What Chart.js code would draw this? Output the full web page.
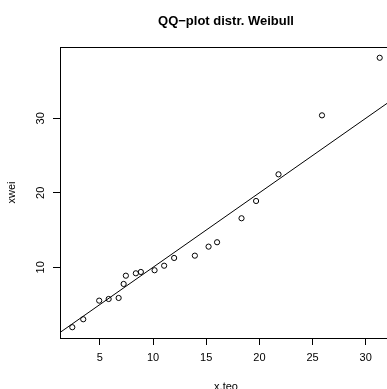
<!DOCTYPE html>
<html>
<head>
<meta charset="utf-8">
<script src="https://cdn.jsdelivr.net/npm/chart.js@4/dist/chart.umd.min.js"></script>
<style>
  html, body { margin: 0; padding: 0; background: #fff; overflow: hidden; }
  canvas { display: block; }
</style>
</head>
<body>
<canvas id="qq" width="400" height="410"></canvas>
<script>
// theoretical quantiles vs sorted sample
const xTeo = [2.40, 3.43, 4.93, 5.82, 6.76, 7.23, 7.44, 8.38, 8.85, 10.14,
              11.04, 11.98, 13.93, 15.22, 16.02, 18.32, 19.69, 21.80, 25.89, 31.32];
const xWei = [1.95, 3.02, 5.52, 5.74, 5.88, 7.76, 8.87, 9.19, 9.37, 9.60,
              10.21, 11.25, 11.56, 12.77, 13.36, 16.58, 18.90, 22.48, 30.40, 38.13];
const xTicks = [5, 10, 15, 20, 25, 30];
const yTicks = [10, 20, 30];
// reference line y = a + b*x
const lineA = 0;
const lineB = 1;

// R style axis range: data range extended by 4%
function rRange(v) {
  const lo = Math.min(...v), hi = Math.max(...v), d = (hi - lo) * 0.04;
  return [lo - d, hi + d];
}
const xLim = rRange(xTeo);
const yLim = rRange(xWei);

const points = xTeo.map((x, i) => ({ x: x, y: xWei[i] }));
const refLine = xLim.map(x => ({ x: x, y: lineA + lineB * x }));

// full box round the plot region
const boxPlugin = {
  id: 'box',
  afterDatasetsDraw(chart) {
    const a = chart.chartArea, ctx = chart.ctx;
    ctx.save();
    ctx.strokeStyle = '#000';
    ctx.lineWidth = 1;
    ctx.strokeRect(Math.round(a.left) + 0.5, Math.round(a.top) + 0.5,
                   Math.round(a.right - a.left), Math.round(a.bottom - a.top));
    ctx.restore();
  }
};

Chart.defaults.font.family = '"Liberation Sans", Arial, Helvetica, sans-serif';
Chart.defaults.color = '#000';

new Chart(document.getElementById('qq'), {
  type: 'scatter',
  data: {
    datasets: [
      {
        data: points,
        showLine: false,
        pointStyle: 'circle',
        pointRadius: 2.6,
        pointBackgroundColor: 'rgba(0,0,0,0)',
        pointBorderColor: '#000',
        pointBorderWidth: 1
      },
      {
        data: refLine,
        showLine: true,
        pointRadius: 0,
        borderColor: '#000',
        borderWidth: 1,
        fill: false
      }
    ]
  },
  options: {
    responsive: false,
    animation: false,
    layout: { padding: { left: 0, right: 8, top: 0, bottom: 0 } },
    plugins: {
      legend: { display: false },
      tooltip: { enabled: false },
      title: {
        display: true,
        fullSize: false,
        text: 'QQ\u2212plot distr. Weibull',
        font: { size: 13, weight: 'bold' },
        padding: { top: 14, bottom: 17.4 }
      }
    },
    scales: {
      x: {
        type: 'linear',
        min: xLim[0],
        max: xLim[1],
        afterBuildTicks: s => { s.ticks = xTicks.map(v => ({ value: v })); },
        afterFit: s => { s.height = 72; },
        border: { display: false },
        grid: { drawOnChartArea: false, drawTicks: true, tickLength: 7, color: '#000', lineWidth: 1 },
        ticks: { font: { size: 11 }, padding: 6, maxRotation: 0, autoSkip: false },
        title: { display: true, text: 'x.teo', font: { size: 11 }, padding: { top: 0, bottom: 16 } }
      },
      y: {
        type: 'linear',
        min: yLim[0],
        max: yLim[1],
        afterBuildTicks: s => { s.ticks = yTicks.map(v => ({ value: v })); },
        afterFit: s => { s.width = 60; },
        border: { display: false },
        grid: { drawOnChartArea: false, drawTicks: true, tickLength: 7, color: '#000', lineWidth: 1 },
        ticks: { font: { size: 11 }, padding: 6, minRotation: 90, maxRotation: 90, crossAlign: 'center', autoSkip: false },
        title: { display: true, text: 'xwei', font: { size: 11 }, padding: { top: 5, bottom: 0 } }
      }
    }
  },
  plugins: [boxPlugin]
});
</script>
</body>
</html>
